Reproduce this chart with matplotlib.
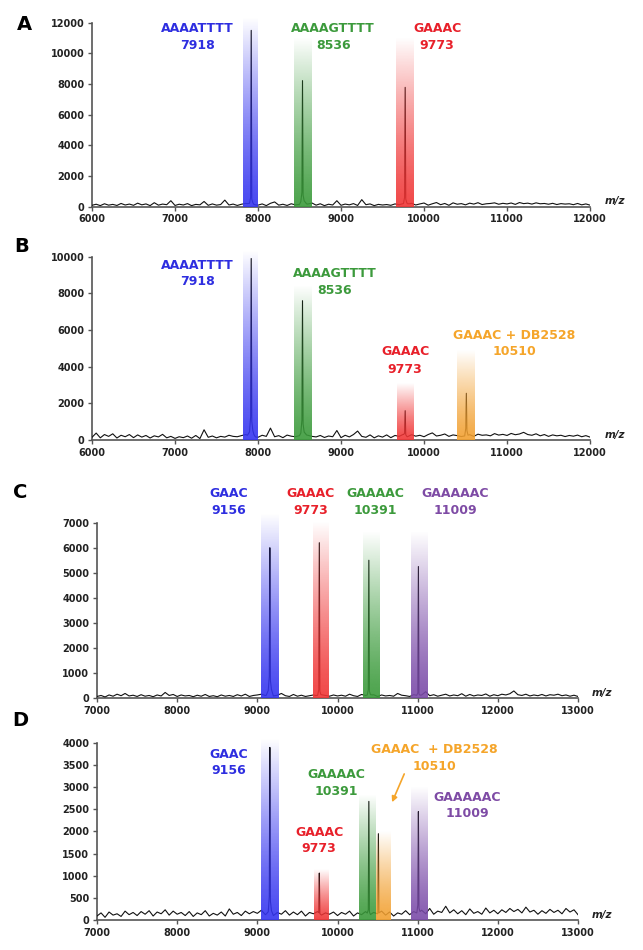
import numpy as np
import matplotlib
matplotlib.use("Agg")
import matplotlib.pyplot as plt
from matplotlib.colors import to_rgb

plt.rcParams['font.family'] = ['DejaVu Sans']

# ---------------- data ----------------
# baseline noise, one value every 50 m/z
noise_A = [80,150,60,180,90,140,70,200,100,160,
           80,220,110,170,60,250,90,160,120,380,
           70,150,100,190,60,140,110,330,80,170,
           90,130,420,100,160,70,150,200,180,120,
           90,170,60,210,300,90,150,70,180,110,
           140,200,160,230,90,180,60,150,100,380,
           80,160,110,190,70,450,120,170,60,140,
           100,130,80,170,120,190,150,210,100,170,
           230,90,180,260,120,200,80,240,150,190,
           110,220,160,250,130,180,200,240,150,210,
           170,230,140,260,190,220,160,240,180,200,
           150,210,130,190,160,180,120,200,110,170,90]
noise_B = [150,380,120,300,200,340,110,260,180,300,
           130,280,160,250,110,230,170,310,120,200,
           90,180,130,220,100,250,80,560,150,220,
           120,200,160,260,200,180,240,300,220,180,
           150,260,200,650,180,240,130,270,210,180,
           240,300,260,200,170,250,140,220,180,520,
           130,260,170,300,490,200,150,280,120,230,
           160,280,130,250,200,310,180,290,210,260,
           180,300,390,220,260,330,200,280,240,190,
           230,290,200,320,260,280,230,350,270,310,
           250,360,290,330,420,300,260,340,230,300,
           200,280,230,260,190,250,210,270,180,240,160]
noise_C = [60,100,40,120,70,150,90,180,80,110,
           60,130,70,100,50,120,80,220,100,140,
           60,120,80,100,50,110,70,140,60,90,
           50,120,70,100,60,130,80,150,60,100,
           120,150,100,130,80,110,180,90,60,140,
           70,110,60,90,120,80,130,100,70,120,
           80,110,70,150,90,60,140,100,80,130,
           60,120,80,100,70,180,110,90,60,130,
           100,120,250,90,130,70,110,150,80,120,
           90,170,70,140,80,120,100,160,70,130,
           90,150,120,170,280,130,100,150,80,120,
           90,140,80,130,110,150,90,120,70,110,60]
noise_D = [90,160,60,180,110,140,80,200,120,170,
           100,190,130,210,90,180,140,230,110,200,
           130,170,100,190,80,160,120,210,90,150,
           110,180,90,250,130,170,100,200,140,190,
           150,220,120,190,100,170,130,210,110,180,
           120,200,90,170,140,190,110,160,130,180,
           100,170,130,200,90,160,120,190,110,170,
           140,200,110,180,90,160,130,210,120,190,
           150,220,140,260,130,200,170,310,160,230,
           140,210,120,250,150,190,130,270,160,220,
           140,230,170,260,190,240,160,290,180,220,
           130,210,150,240,170,220,140,260,180,230,120]

# peaks: m/z, spike height, base height
peaks_A_mz = [7918, 8536, 9773]
peaks_A_h = [11500, 8220, 7780]
peaks_A_b = [600, 930, 600]
peaks_B_mz = [7918, 8536, 9773, 10510]
peaks_B_h = [9900, 7600, 1600, 2550]
peaks_B_b = [1270, 1090, 360, 640]
peaks_C_mz = [9156, 9773, 10391, 11009]
peaks_C_h = [6000, 6200, 5500, 5250]
peaks_C_b = [860, 330, 330, 200]
peaks_D_mz = [9156, 9773, 10391, 10510, 11009]
peaks_D_h = [3900, 1060, 2680, 1950, 2450]
peaks_D_b = [530, 150, 230, 150, 340]

# highlight bands: centre, width, top
bands_A_c = [7911, 8540, 9767]
bands_A_w = [180, 208, 208]
bands_A_top = [12390, 11040, 11040]
bands_B_c = [7911, 8540, 9772, 10507]
bands_B_w = [180, 208, 200, 214]
bands_B_top = [10330, 8450, 3090, 4900]
bands_C_c = [9161, 9790, 10418, 11025]
bands_C_w = [220, 195, 210, 205]
bands_C_top = [7370, 7040, 6640, 6640]
bands_D_c = [9161, 9795, 10375, 10566, 11025]
bands_D_w = [220, 185, 205, 180, 205]
bands_D_top = [4113, 1132, 2830, 2000, 3019]

# labels
names_A = ['AAAATTTT', 'AAAAGTTTT', 'GAAAC']
masses_A = ['7918', '8536', '9773']
lab_A_x = [7272, 8906, 10158]
lab_A_y1 = [11590, 11590, 11590]
lab_A_y2 = [10500, 10500, 10500]

names_B = ['AAAATTTT', 'AAAAGTTTT', 'GAAAC', 'GAAAC + DB2528']
masses_B = ['7918', '8536', '9773', '10510']
lab_B_x = [7272, 8921, 9772, 11084]
lab_B_y1 = [9545, 9090, 4818, 5727]
lab_B_y2 = [8636, 8145, 3873, 4818]

names_C = ['GAAC', 'GAAAC', 'GAAAAC', 'GAAAAAC']
masses_C = ['9156', '9773', '10391', '11009']
lab_C_x = [8641, 9667, 10477, 11472]
lab_C_y1 = [8167, 8167, 8167, 8167]
lab_C_y2 = [7503, 7503, 7503, 7503]

names_D = ['GAAC', 'GAAAC', 'GAAAAC', 'GAAAC  + DB2528', 'GAAAAAC']
masses_D = ['9156', '9773', '10391', '10510', '11009']
lab_D_x = [8641, 9770, 9980, 11205, 11615]
lab_D_y1 = [3736, 1985, 3283, 3849, 2777]
lab_D_y2 = [3381, 1608, 2906, 3472, 2400]

BLUE, GREEN, RED, ORANGE, PURPLE = '#2e2ee0', '#3c9a3c', '#e8202a', '#f5a52a', '#7e4ba5'
BAND_BLUE, BAND_GREEN, BAND_RED, BAND_ORANGE, BAND_PURPLE = '#3535f0', '#3a9a3a', '#f03535', '#f2a030', '#7a4aa8'

cols_A = [BLUE, GREEN, RED]
cols_B = [BLUE, GREEN, RED, ORANGE]
cols_C = [BLUE, RED, GREEN, PURPLE]
cols_D = [BLUE, RED, GREEN, ORANGE, PURPLE]
bcols_A = [BAND_BLUE, BAND_GREEN, BAND_RED]
bcols_B = [BAND_BLUE, BAND_GREEN, BAND_RED, BAND_ORANGE]
bcols_C = [BAND_BLUE, BAND_RED, BAND_GREEN, BAND_PURPLE]
bcols_D = [BAND_BLUE, BAND_RED, BAND_GREEN, BAND_ORANGE, BAND_PURPLE]

# ---------------- figure ----------------
fig = plt.figure(figsize=(6.43, 9.5), dpi=100)

panels = [
    dict(letter='A', rect=[0.1431, 0.7826, 0.7745, 0.1935], x0=6000, noise=noise_A,
         xlim=(6000, 12000), ylim=(0, 12000), yticks=np.arange(0, 12001, 2000),
         pk=(peaks_A_mz, peaks_A_h, peaks_A_b), bands=(bands_A_c, bands_A_w, bands_A_top, bcols_A),
         labs=(names_A, masses_A, lab_A_x, lab_A_y1, lab_A_y2, cols_A), lpos=(24, 25)),
    dict(letter='B', rect=[0.1431, 0.5368, 0.7745, 0.1930], x0=6000, noise=noise_B,
         xlim=(6000, 12000), ylim=(0, 10000), yticks=np.arange(0, 10001, 2000),
         pk=(peaks_B_mz, peaks_B_h, peaks_B_b), bands=(bands_B_c, bands_B_w, bands_B_top, bcols_B),
         labs=(names_B, masses_B, lab_B_x, lab_B_y1, lab_B_y2, cols_B), lpos=(22, 246)),
    dict(letter='C', rect=[0.1509, 0.2653, 0.7480, 0.1845], x0=7000, noise=noise_C,
         xlim=(7000, 13000), ylim=(0, 7000), yticks=np.arange(0, 7001, 1000),
         pk=(peaks_C_mz, peaks_C_h, peaks_C_b), bands=(bands_C_c, bands_C_w, bands_C_top, bcols_C),
         labs=(names_C, masses_C, lab_C_x, lab_C_y1, lab_C_y2, cols_C), lpos=(20, 493)),
    dict(letter='D', rect=[0.1509, 0.0316, 0.7480, 0.1863], x0=7000, noise=noise_D,
         xlim=(7000, 13000), ylim=(0, 4000), yticks=np.arange(0, 4001, 500),
         pk=(peaks_D_mz, peaks_D_h, peaks_D_b), bands=(bands_D_c, bands_D_w, bands_D_top, bcols_D),
         labs=(names_D, masses_D, lab_D_x, lab_D_y1, lab_D_y2, cols_D), lpos=(20, 720)),
]

for p in panels:
    ax = fig.add_axes(p['rect'])
    noise = np.array(p['noise'], dtype=float)
    xn = p['x0'] + 50 * np.arange(len(noise))
    mzs, hs, bs = p['pk']
    # build the spectrum trace
    xs = list(xn)
    for m in mzs:
        xs += [m - 45, m - 20, m - 7, m, m + 7, m + 20, m + 50]
    xs = np.unique(np.array(xs, dtype=float))
    ys = np.interp(xs, xn, noise)
    for m, h, b in zip(mzs, hs, bs):
        prof = np.interp(xs, [m - 45, m - 20, m - 7, m, m + 7, m + 20, m + 50],
                         [0, 0.35 * b, b, h, 0.8 * b, 0.4 * b, 0], left=0, right=0)
        ys = np.maximum(ys, prof)
    ax.plot(xs, ys, color='#111111', lw=0.8, zorder=3)

    # gradient bands
    cs, ws, tops, bcs = p['bands']
    for c, w, t, col in zip(cs, ws, tops, bcs):
        rgb = to_rgb(col)
        n = 256
        alpha = 0.9 * (1 - np.linspace(0.0, 1.0, n) ** 1.3)
        img = np.zeros((n, 1, 4))
        img[:, 0, :3] = rgb
        img[:, 0, 3] = alpha
        im = ax.imshow(img, extent=[c - w / 2, c + w / 2, 0, t], origin='lower',
                       aspect='auto', zorder=4, interpolation='bilinear')
        im.set_clip_on(False)

    # labels
    names, masses, lx, ly1, ly2, lcols = p['labs']
    for nm, ms, x, y1, y2, col in zip(names, masses, lx, ly1, ly2, lcols):
        ax.text(x, y1, nm, color=col, fontsize=9, fontweight='bold', ha='center',
                va='center', clip_on=False, zorder=6)
        ax.text(x, y2, ms, color=col, fontsize=9, fontweight='bold', ha='center',
                va='center', clip_on=False, zorder=6)

    ax.set_xlim(*p['xlim'])
    ax.set_ylim(*p['ylim'])
    ax.set_xticks(np.arange(p['xlim'][0], p['xlim'][1] + 1, 1000))
    ax.set_yticks(p['yticks'])
    for s in ['top', 'right']:
        ax.spines[s].set_visible(False)
    for s in ['left', 'bottom']:
        ax.spines[s].set_color('#555555')
        ax.spines[s].set_linewidth(1.2)
    ax.tick_params(axis='both', direction='out', length=3, width=1, color='#555555',
                   labelsize=7, labelcolor='#222222', pad=2.5)
    for lab in ax.get_xticklabels() + ax.get_yticklabels():
        lab.set_fontweight('bold')
    ax.text(1.05, 0.03, 'm/z', transform=ax.transAxes, fontsize=7.5, fontstyle='italic',
            fontweight='bold', color='#222222', ha='center', va='center', clip_on=False)
    fig.text(p['lpos'][0] / 643, 1 - p['lpos'][1] / 950, p['letter'], fontsize=14,
             fontweight='bold', ha='center', va='center')
    p['ax'] = ax

# arrow in panel D
axD = panels[3]['ax']
axD.annotate('', xy=(10667, 2604), xytext=(10846, 3358),
             arrowprops=dict(arrowstyle='-|>', color=ORANGE, lw=1.2, mutation_scale=8),
             zorder=6)

fig.savefig('out.png', dpi=100)
